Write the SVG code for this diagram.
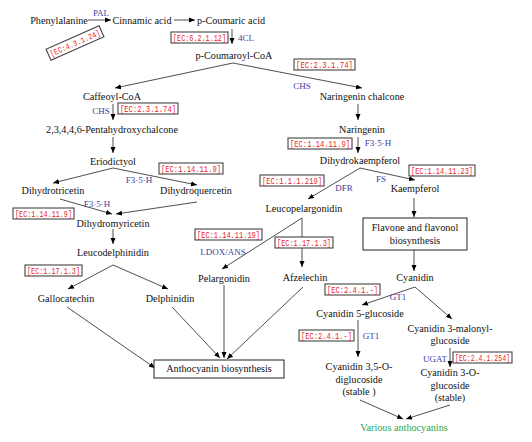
<svg xmlns="http://www.w3.org/2000/svg" width="532" height="442" viewBox="0 0 532 442">
<defs>
<marker id="ah" markerUnits="userSpaceOnUse" markerWidth="6" markerHeight="6" refX="6" refY="3" orient="auto">
<path d="M0,0.5 L6,3 L0,5.5 z" fill="#000"/>
</marker>
<style>
.n{font-family:"Liberation Serif","Times New Roman",serif;font-size:10.2px;fill:#111;text-anchor:middle}
.e{font-family:"Liberation Serif","Times New Roman",serif;font-size:9px;fill:#3d3d9e;text-anchor:middle}
.g{font-family:"Liberation Serif","Times New Roman",serif;font-size:10.2px;fill:#2aa84a;text-anchor:middle}
.ecb{fill:#fff;stroke:#444;stroke-width:1.1}
.ect{font-family:"Liberation Mono","Courier New",monospace;font-size:8.2px;fill:#e8262a;text-anchor:middle}
.box{fill:#fff;stroke:#222;stroke-width:1}
.c line{stroke:#222;stroke-width:0.8;marker-end:url(#ah)}
</style>
</defs>
<rect width="532" height="442" fill="#fff"/>

<g id="connectors" class="c">
<line x1="88" y1="20" x2="111" y2="20"/>
<line x1="174" y1="20" x2="195" y2="20"/>
<line x1="232" y1="29" x2="232" y2="44"/>
<line x1="233" y1="63" x2="115" y2="88"/>
<line x1="233" y1="63" x2="362" y2="88"/>
<line x1="113" y1="104" x2="113" y2="120"/>
<line x1="113" y1="137" x2="113" y2="153"/>
<line x1="113" y1="168" x2="53" y2="183"/>
<line x1="113" y1="168" x2="197" y2="185"/>
<line x1="358" y1="104" x2="358" y2="120"/>
<line x1="358" y1="137" x2="358" y2="153"/>
<line x1="360" y1="168" x2="415" y2="180"/>
<line x1="360" y1="168" x2="308" y2="199"/>
<line x1="60" y1="199" x2="112" y2="214"/>
<line x1="197" y1="202" x2="116" y2="214"/>
<line x1="113" y1="229" x2="113" y2="244"/>
<line x1="113" y1="265" x2="68" y2="289"/>
<line x1="113" y1="265" x2="168" y2="289"/>
<line x1="302" y1="218" x2="222" y2="269"/>
<line x1="302" y1="218" x2="302" y2="267"/>
<line x1="414" y1="198" x2="414" y2="217"/>
<line x1="414" y1="250" x2="414" y2="271"/>
<line x1="415" y1="287" x2="362" y2="305"/>
<line x1="415" y1="287" x2="452" y2="319"/>
<line x1="358" y1="320" x2="358" y2="357"/>
<line x1="450" y1="348" x2="450" y2="367"/>
<line x1="67" y1="307" x2="155" y2="368"/>
<line x1="172" y1="307" x2="220" y2="358"/>
<line x1="224" y1="285" x2="224" y2="358"/>
<line x1="303" y1="287" x2="227" y2="359"/>
<line x1="360" y1="400" x2="403" y2="419"/>
<line x1="450" y1="405" x2="406" y2="419"/>
</g>

<g id="n-phenylalanine"><text class="n" x="59" y="24">Phenylalanine</text></g>
<g id="n-cinnamic"><text class="n" x="142" y="24">Cinnamic acid</text></g>
<g id="n-pcoumaric"><text class="n" x="231" y="24">p-Coumaric acid</text></g>
<g id="n-pcoumaroyl"><text class="n" x="234" y="59">p-Coumaroyl-CoA</text></g>
<g id="n-caffeoyl"><text class="n" x="112" y="100">Caffeoyl-CoA</text></g>
<g id="n-naringeninchalcone"><text class="n" x="362" y="100">Naringenin chalcone</text></g>
<g id="n-penta"><text class="n" x="112" y="133">2,3,4,4,6-Pentahydroxychalcone</text></g>
<g id="n-naringenin"><text class="n" x="362" y="133">Naringenin</text></g>
<g id="n-eriodictyol"><text class="n" x="113" y="165">Eriodictyol</text></g>
<g id="n-dihydrokaempferol"><text class="n" x="360" y="164">Dihydrokaempferol</text></g>
<g id="n-dihydrotricetin"><text class="n" x="53" y="194">Dihydrotricetin</text></g>
<g id="n-dihydroquercetin"><text class="n" x="196" y="194">Dihydroquercetin</text></g>
<g id="n-kaempferol"><text class="n" x="415" y="192">Kaempferol</text></g>
<g id="n-leucopelargonidin"><text class="n" x="304" y="212">Leucopelargonidin</text></g>
<g id="n-dihydromyricetin"><text class="n" x="113" y="227">Dihydromyricetin</text></g>
<g id="n-flavone"><rect class="box" x="363" y="218" width="104" height="32"/><text class="n" x="415" y="231">Flavone and flavonol</text><text class="n" x="415" y="244">biosynthesis</text></g>
<g id="n-leucodelphinidin"><text class="n" x="113" y="256">Leucodelphinidin</text></g>
<g id="n-pelargonidin"><text class="n" x="224" y="282">Pelargonidin</text></g>
<g id="n-afzelechin"><text class="n" x="305" y="281">Afzelechin</text></g>
<g id="n-cyanidin"><text class="n" x="415" y="281">Cyanidin</text></g>
<g id="n-gallocatechin"><text class="n" x="66" y="302">Gallocatechin</text></g>
<g id="n-delphinidin"><text class="n" x="170" y="302">Delphinidin</text></g>
<g id="n-cy5glc"><text class="n" x="360" y="317">Cyanidin 5-glucoside</text></g>
<g id="n-cy3malonyl"><text class="n" x="450" y="332">Cyanidin 3-malonyl-</text><text class="n" x="450" y="344">glucoside</text></g>
<g id="n-anthocyanin"><rect class="box" x="154" y="360" width="130" height="18"/><text class="n" x="219" y="372">Anthocyanin biosynthesis</text></g>
<g id="n-cy35diglc"><text class="n" x="359" y="370">Cyanidin 3,5-O-</text><text class="n" x="359" y="383">diglucoside</text><text class="n" x="359" y="395">(stable )</text></g>
<g id="n-cy3oglc"><text class="n" x="450" y="376">Cyanidin 3-O-</text><text class="n" x="450" y="389">glucoside</text><text class="n" x="450" y="401">(stable)</text></g>
<g id="n-various"><text class="g" x="404" y="431">Various anthocyanins</text></g>

<g id="enzymes">
<text class="e" x="101" y="16">PAL</text>
<text class="e" x="246" y="41">4CL</text>
<text class="e" x="302" y="89">CHS</text>
<text class="e" x="101" y="114">CHS</text>
<text class="e" x="378" y="146">F3·5·H</text>
<text class="e" x="139" y="183">F3·5·H</text>
<text class="e" x="381" y="182">FS</text>
<text class="e" x="344" y="191">DFR</text>
<text class="e" x="97" y="207">F3·5·H</text>
<text class="e" x="223" y="255">LDOX/ANS</text>
<text class="e" x="398" y="300">GT1</text>
<text class="e" x="371" y="339">GT1</text>
<text class="e" x="435" y="362">UGAT</text>
</g>

<g id="ec-labels">
<g transform="translate(75,43) rotate(-24)"><rect class="ecb" x="-29" y="-6" width="58" height="12"/><text class="ect" x="0" y="3" textLength="54" lengthAdjust="spacingAndGlyphs">[EC:4.3.1.24]</text></g>
<g><rect class="ecb" x="171" y="32" width="57" height="11"/><text class="ect" x="199.5" y="40.5" textLength="53" lengthAdjust="spacingAndGlyphs">[EC:6.2.1.12]</text></g>
<g><rect class="ecb" x="294" y="59" width="61" height="11"/><text class="ect" x="324.5" y="67.5" textLength="57" lengthAdjust="spacingAndGlyphs">[EC:2.3.1.74]</text></g>
<g><rect class="ecb" x="118" y="103" width="60" height="11"/><text class="ect" x="148" y="111.5" textLength="56" lengthAdjust="spacingAndGlyphs">[EC:2.3.1.74]</text></g>
<g><rect class="ecb" x="288" y="138" width="64" height="11"/><text class="ect" x="320" y="146.5" textLength="60" lengthAdjust="spacingAndGlyphs">[EC:1.14.11.9]</text></g>
<g><rect class="ecb" x="159" y="163" width="64" height="11"/><text class="ect" x="191" y="171.5" textLength="60" lengthAdjust="spacingAndGlyphs">[EC:1.14.11.9]</text></g>
<g><rect class="ecb" x="260" y="175" width="64" height="11"/><text class="ect" x="292" y="183.5" textLength="60" lengthAdjust="spacingAndGlyphs">[EC:1.1.1.219]</text></g>
<g><rect class="ecb" x="409" y="165" width="66" height="11"/><text class="ect" x="442" y="173.5" textLength="62" lengthAdjust="spacingAndGlyphs">[EC:1.14.11.23]</text></g>
<g><rect class="ecb" x="13" y="208" width="61" height="11"/><text class="ect" x="43.5" y="216.5" textLength="57" lengthAdjust="spacingAndGlyphs">[EC:1.14.11.9]</text></g>
<g><rect class="ecb" x="195" y="229" width="67" height="11"/><text class="ect" x="228.5" y="237.5" textLength="63" lengthAdjust="spacingAndGlyphs">[EC:1.14.11.19]</text></g>
<g><rect class="ecb" x="275" y="237" width="58" height="11"/><text class="ect" x="304" y="245.5" textLength="54" lengthAdjust="spacingAndGlyphs">[EC:1.17.1.3]</text></g>
<g><rect class="ecb" x="25" y="265" width="57" height="11"/><text class="ect" x="53.5" y="273.5" textLength="53" lengthAdjust="spacingAndGlyphs">[EC:1.17.1.3]</text></g>
<g><rect class="ecb" x="325" y="284" width="55" height="11"/><text class="ect" x="352.5" y="292.5" textLength="51" lengthAdjust="spacingAndGlyphs">[EC:2.4.1.-]</text></g>
<g><rect class="ecb" x="299" y="330" width="55" height="11"/><text class="ect" x="326.5" y="338.5" textLength="51" lengthAdjust="spacingAndGlyphs">[EC:2.4.1.-]</text></g>
<g><rect class="ecb" x="453" y="352" width="59" height="11"/><text class="ect" x="482.5" y="360.5" textLength="55" lengthAdjust="spacingAndGlyphs">[EC:2.4.1.254]</text></g>
</g>
</svg>
